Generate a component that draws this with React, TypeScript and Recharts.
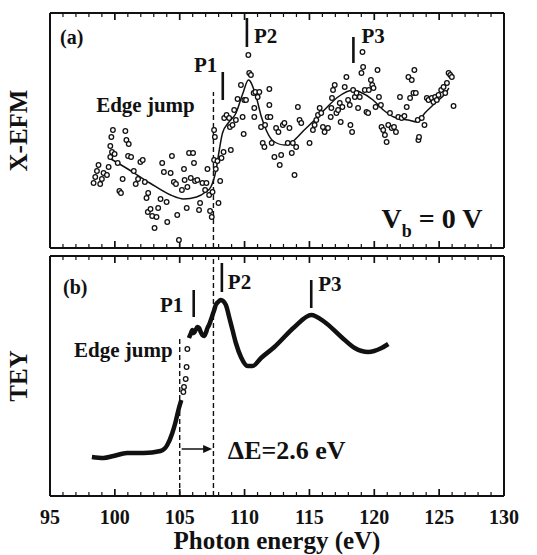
import React from 'react';
import {
  ComposedChart,
  Line,
  Scatter,
  XAxis,
  YAxis,
  ReferenceLine,
  ReferenceDot,
} from 'recharts';

const energyTicks = [95, 100, 105, 110, 115, 120, 125, 130];
const minorTicks = [
  95, 96, 97, 98, 99, 100, 101, 102, 103, 104, 105, 106, 107, 108, 109, 110, 111, 112,
  113, 114, 115, 116, 117, 118, 119, 120, 121, 122, 123, 124, 125, 126, 127, 128, 129, 130,
];

// (a) X-EFM measured points, [photon energy eV, signal a.u.]
const xefmPoints: [number, number][] = [
  [98.36, 65], [98.49, 71], [98.62, 77], [98.74, 83], [98.87, 64], [99.0, 69], [99.13, 75],
  [99.39, 73], [99.52, 81], [99.65, 91], [99.78, 96], [99.65, 102], [99.73, 111], [99.85, 118],
  [99.98, 94], [100.22, 85], [100.35, 57], [100.47, 55], [100.6, 69], [100.81, 117], [100.89, 108],
  [101.07, 104], [101.02, 92], [101.25, 91], [101.46, 77], [101.61, 64], [101.79, 69], [101.97, 86],
  [102.15, 88], [102.31, 66], [102.57, 55], [102.44, 50], [102.54, 36], [102.75, 39], [102.88, 32],
  [103.06, 20], [103.21, 31], [103.34, 40], [103.52, 49], [103.65, 85], [103.78, 76], [103.99, 46],
  [104.04, 26], [104.3, 75], [104.4, 92], [104.55, 66], [104.71, 64], [104.81, 33], [104.94, 8],
  [105.17, 58], [105.33, 79], [105.38, 68], [105.54, 40], [105.59, 61], [105.72, 95], [105.85, 70],
  [106.03, 95], [106.1, 85], [106.18, 67], [106.36, 68], [106.49, 38], [106.57, 45], [106.75, 65],
  [106.96, 58], [107.14, 79], [107.06, 65], [107.27, 53], [107.34, 37], [107.47, 31], [107.53, 56],
  [107.65, 88], [107.71, 111], [107.65, 118], [107.78, 79], [107.91, 87], [107.99, 45], [108.12, 67],
  [108.22, 90], [108.38, 96], [108.43, 130], [108.61, 133], [108.81, 130], [108.94, 98], [108.87, 121],
  [109.07, 123], [109.2, 138], [109.33, 128], [109.46, 149], [109.72, 163], [109.85, 131], [109.93, 114],
  [109.98, 148], [110.11, 148], [110.36, 175], [110.49, 173], [110.29, 193], [110.7, 155], [110.83, 156],
  [111.01, 151], [111.14, 156], [110.75, 140], [110.75, 131], [111.27, 121], [111.4, 105], [111.53, 101],
  [111.58, 123], [111.78, 131], [111.91, 143], [111.91, 159], [111.99, 131], [112.09, 105], [112.3, 91],
  [112.43, 120], [112.61, 116], [112.71, 83], [112.82, 93], [112.95, 123], [113.07, 125], [113.33, 105],
  [113.46, 120], [113.64, 95], [113.72, 105], [113.85, 73], [113.98, 101], [114.11, 141], [114.24, 128],
  [114.37, 125], [115.01, 105], [115.27, 118], [115.4, 123], [115.53, 128], [115.66, 133], [115.91, 135],
  [115.79, 140], [116.04, 121], [116.17, 116], [116.43, 120], [116.64, 131], [116.69, 140], [116.74, 150],
  [116.82, 158], [116.95, 163], [117.08, 135], [117.21, 138], [117.34, 145], [117.41, 126], [117.54, 141],
  [117.72, 161], [117.85, 171], [117.98, 148], [118.11, 143], [118.16, 123], [118.29, 116], [118.37, 158],
  [118.5, 151], [118.63, 155], [118.75, 140], [118.88, 151], [119.01, 175], [119.09, 196], [119.14, 181],
  [119.27, 158], [119.4, 136], [119.53, 135], [119.58, 158], [119.74, 168], [119.84, 163], [119.94, 160],
  [120.1, 141], [120.25, 178], [120.36, 151], [120.51, 143], [120.56, 121], [120.69, 118], [120.82, 113],
  [120.95, 106], [121.08, 123], [121.21, 135], [121.34, 120], [121.52, 121], [121.67, 116], [121.85, 131],
  [121.98, 151], [122.11, 130], [122.32, 132], [122.5, 141], [122.63, 171], [122.76, 150], [122.89, 168],
  [123.02, 155], [123.09, 178], [123.2, 155], [123.35, 128], [123.4, 108], [123.45, 111], [123.66, 130],
  [123.87, 123], [124.05, 150], [124.18, 148], [124.43, 150], [124.56, 146], [124.69, 151], [124.82, 148],
  [124.95, 153], [125.16, 158], [125.34, 161], [125.47, 155], [125.6, 165], [125.73, 175], [125.86, 173],
  [125.98, 171], [126.11, 142],
];

// (a) smoothed X-EFM curve
const xefmFit: [number, number][] = [
  [99.7, 89], [101.0, 79], [102.7, 65], [104.3, 53], [105.3, 49], [106.3, 51], [107.0, 56],
  [107.4, 61], [107.8, 78], [108.05, 98], [108.3, 115], [108.8, 126], [109.3, 134], [109.85, 154],
  [110.3, 168], [110.9, 151], [111.3, 131], [111.7, 117], [112.2, 107], [113.1, 103], [113.85, 108],
  [114.6, 118], [115.4, 128], [116.3, 140], [117.2, 151], [118.4, 158], [118.9, 156], [119.9, 148],
  [120.7, 138], [121.5, 131], [122.6, 128], [123.3, 126], [123.9, 135], [124.7, 145], [125.5, 155],
  [125.75, 160],
];

// (b) TEY spectrum
const teyPreEdge: [number, number][] = [
  [98.23, 39], [99.13, 38], [99.9, 40], [100.94, 43], [102.23, 43], [103.52, 45], [104.04, 51],
  [104.43, 63], [104.68, 74], [104.94, 88], [105.12, 96],
];
const teyEdge: [number, number][] = [
  [105.28, 104], [105.33, 109], [105.46, 117], [105.53, 129], [105.59, 147],
];
const teyPostEdge: [number, number][] = [
  [105.71, 158], [105.84, 162], [105.98, 166], [106.1, 163], [106.23, 166], [106.36, 169],
  [106.49, 168], [106.62, 164], [106.75, 161], [106.88, 160], [107.01, 163], [107.14, 168],
  [107.26, 171], [107.4, 176], [107.53, 181], [107.66, 186], [107.78, 191], [107.96, 194],
  [108.17, 196], [108.56, 191], [108.81, 179], [109.07, 166], [109.33, 153], [109.72, 139],
  [110.24, 130], [110.62, 130], [111.27, 138], [112.3, 149], [113.85, 169], [115.14, 181],
  [116.17, 174], [117.46, 159], [118.49, 148], [119.53, 144], [120.56, 148], [121.08, 152],
];

const rows = (pts: [number, number][]) => pts.map(([e, v]) => ({ e, v }));
const edgeRows = (v: number) => minorTicks.map((e) => ({ e, v }));

const FONT = '"Liberation Serif", "Times New Roman", serif';
const INK = '#111';
const domainE: [number, number] = [95, 130];
const domainA: [number, number] = [0, 235];
const domainB: [number, number] = [0, 240];

const textStyle = { fill: INK, fontFamily: FONT, fontWeight: 'bold' as const };

const hollowDot = (p: any) => (
  <circle cx={p.cx} cy={p.cy} r={2.3} fill="#fff" stroke={INK} strokeWidth={1.3} />
);

// inward tick mark drawn at each 1 eV position on the frame edge, longer every 5 eV
const tickShape = (side: 'top' | 'bottom') => (p: any) => {
  const major = energyTicks.includes(p.payload.e);
  const len = major ? 7 : 4;
  const w = major ? 1.7 : 1.2;
  const y = side === 'bottom' ? p.cy - len : p.cy;
  return <rect x={p.cx - w / 2} y={y} width={w} height={len} fill={INK} />;
};

// tick labels only at every 5 eV
const energyLabel = (p: any) => {
  const value = Number(p.payload.value);
  if (!energyTicks.includes(value)) return <g />;
  return (
    <text x={p.x} y={Number(p.y) + 28} textAnchor="middle" fontSize={20} {...textStyle}>
      {value}
    </text>
  );
};

function frameTicks(prefix: string, yMax: number) {
  return [
    <Scatter key={`${prefix}tb`} data={edgeRows(0)} dataKey="v" shape={tickShape('bottom')} isAnimationActive={false} />,
    <Scatter key={`${prefix}tt`} data={edgeRows(yMax)} dataKey="v" shape={tickShape('top')} isAnimationActive={false} />,
  ];
}

const edgeAxis = {
  type: 'number' as const,
  dataKey: 'e',
  domain: domainE,
  allowDataOverflow: true,
  ticks: minorTicks,
  interval: 0 as const,
  tickSize: 0,
  tickMargin: 0,
  tickLine: false,
  axisLine: { stroke: INK, strokeWidth: 2 },
};

function note(key: string, e: number, v: number, text: string, size = 21, position: any = 'right') {
  return (
    <ReferenceDot
      key={key}
      x={e}
      y={v}
      r={0}
      fill="none"
      stroke="none"
      label={{ value: text, position, offset: 0, fontSize: size, ...textStyle }}
    />
  );
}

function bar(key: string, e: number, v1: number, v2: number) {
  return (
    <ReferenceLine key={key} segment={[{ x: e, y: v1 }, { x: e, y: v2 }]} stroke={INK} strokeWidth={2.6} />
  );
}

function dashed(key: string, e: number, v1: number, v2: number) {
  return (
    <ReferenceLine key={key} segment={[{ x: e, y: v1 }, { x: e, y: v2 }]} stroke={INK} strokeWidth={1.4} strokeDasharray="5 3" />
  );
}

const arrowShape = (p: any) => (
  <g>
    <line x1={p.x1} y1={p.y1} x2={p.x2 - 6} y2={p.y2} stroke={INK} strokeWidth={1.5} />
    <polygon points={`${p.x2},${p.y2} ${p.x2 - 9},${p.y2 - 4} ${p.x2 - 9},${p.y2 + 4}`} fill={INK} />
  </g>
);

const vbLabel = (p: any) => {
  const { x, y } = p.viewBox;
  return (
    <text x={x} y={y} fontSize={28} {...textStyle}>
      <tspan>V</tspan>
      <tspan fontSize={18} dy={9}>b</tspan>
      <tspan dy={-9}> = 0 V</tspan>
    </text>
  );
};

function sideAxes(domain: [number, number], title: string) {
  return [
    <YAxis
      key="l"
      type="number"
      dataKey="v"
      domain={domain}
      allowDataOverflow
      width={1}
      tick={false}
      tickLine={false}
      axisLine={{ stroke: INK, strokeWidth: 2 }}
      label={{ value: title, angle: -90, position: 'left', offset: 31, fontSize: 25, ...textStyle, style: { textAnchor: 'middle' } }}
    />,
    <YAxis key="r" yAxisId="r" orientation="right" type="number" domain={domain} allowDataOverflow width={1} tick={false} tickLine={false} axisLine={{ stroke: INK, strokeWidth: 2 }} />,
  ];
}

export default function App() {
  return (
    <div style={{ position: 'absolute', left: 0, top: 0, width: 537, height: 555, background: '#fff' }}>
      <div style={{ position: 'absolute', left: 0, top: 0 }}>
        <ComposedChart width={537} height={255} margin={{ top: 12, right: 32, bottom: 6, left: 49 }}>
          <XAxis {...edgeAxis} orientation="bottom" height={1} tick={false} />
          <XAxis {...edgeAxis} xAxisId="top" orientation="top" height={1} tick={false} />
          {sideAxes(domainA, 'X-EFM')}
          {frameTicks('a', domainA[1])}
          {dashed('da', 107.6, 0, 156)}
          <Scatter data={rows(xefmPoints)} dataKey="v" shape={hollowDot} isAnimationActive={false} />
          <Line xAxisId="top" data={rows(xefmFit)} dataKey="v" type="monotone" stroke={INK} strokeWidth={1.5} dot={false} isAnimationActive={false} />
          {bar('p1a', 108.32, 148, 176)}
          {bar('p2a', 110.18, 201, 230)}
          {bar('p3a', 118.39, 185, 211)}
          {note('la', 95.77, 211, '(a)', 20)}
          {note('ea', 98.56, 143, 'Edge jump')}
          {note('p1at', 107.0, 183, 'P1', 21, 'center')}
          {note('p2at', 110.72, 212, 'P2')}
          {note('p3at', 119.01, 212, 'P3')}
          <ReferenceDot x={120.56} y={20} r={0} fill="none" stroke="none" label={{ content: vbLabel }} />
        </ComposedChart>
      </div>
      <div style={{ position: 'absolute', left: 0, top: 250 }}>
        <ComposedChart width={537} height={305} margin={{ top: 5, right: 32, bottom: 0, left: 49 }}>
          <XAxis
            {...edgeAxis}
            orientation="bottom"
            height={59}
            tick={energyLabel}
            label={{ value: 'Photon energy (eV)', position: 'insideBottom', offset: 6, fontSize: 25, ...textStyle }}
          />
          <XAxis {...edgeAxis} xAxisId="top" orientation="top" height={1} tick={false} />
          {sideAxes(domainB, 'TEY')}
          {frameTicks('b', domainB[1])}
          {dashed('db1', 105.0, 0, 160)}
          {dashed('db2', 107.6, 0, 240)}
          <Line xAxisId="top" data={rows(teyPreEdge)} dataKey="v" type="monotone" stroke={INK} strokeWidth={4.5} dot={false} isAnimationActive={false} />
          <Scatter data={rows(teyEdge)} dataKey="v" shape={hollowDot} isAnimationActive={false} />
          <Line data={rows(teyPostEdge)} dataKey="v" type="monotone" stroke={INK} strokeWidth={4.5} dot={false} isAnimationActive={false} />
          {bar('p1b', 106.08, 179, 206)}
          {bar('p2b', 108.25, 204, 233)}
          {bar('p3b', 115.14, 188, 216)}
          <ReferenceLine segment={[{ x: 105.15, y: 47 }, { x: 107.5, y: 47 }]} shape={arrowShape} />
          {note('lb', 96.0, 209, '(b)', 20)}
          {note('eb', 104.45, 146, 'Edge jump', 21, 'left')}
          {note('p1bt', 104.37, 191, 'P1', 21, 'center')}
          {note('p2bt', 108.71, 214, 'P2')}
          {note('p3bt', 115.68, 212, 'P3')}
          {note('de', 108.71, 46, 'ΔE=2.6 eV', 26)}
        </ComposedChart>
      </div>
    </div>
  );
}
